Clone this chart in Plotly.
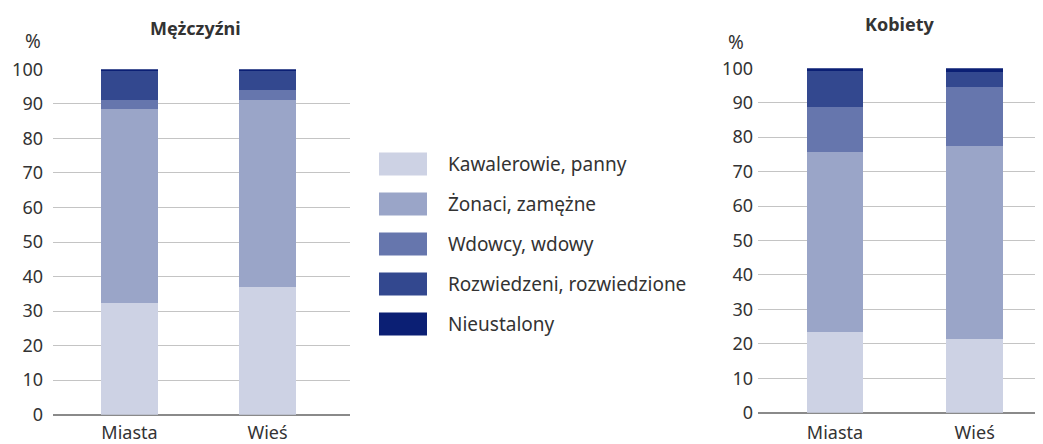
import plotly.graph_objects as go

categories = ["Miasta", "Wieś"]
series_names = ["Kawalerowie, panny", "Żonaci, zamężne", "Wdowcy, wdowy",
                "Rozwiedzeni, rozwiedzione", "Nieustalony"]
colors = ["#CDD2E4", "#9AA5C8", "#6676AD", "#33488F", "#0B1F74"]

# Mężczyźni (values per category: Miasta, Wieś)
men_kawalerowie = [32.3, 37.1]
men_zonaci = [56.1, 54.0]
men_wdowcy = [2.8, 2.9]
men_rozwiedzeni = [8.4, 5.4]
men_nieustalony = [0.4, 0.6]

# Kobiety
women_panny = [23.4, 21.3]
women_zamezne = [52.4, 56.0]
women_wdowy = [13.1, 17.4]
women_rozwiedzione = [10.2, 4.3]
women_nieustalony = [0.9, 1.0]

y_ticks = [0, 10, 20, 30, 40, 50, 60, 70, 80, 90, 100]

men_series = [men_kawalerowie, men_zonaci, men_wdowcy, men_rozwiedzeni, men_nieustalony]
women_series = [women_panny, women_zamezne, women_wdowy, women_rozwiedzione, women_nieustalony]

# page body has an 8px margin: figure sits at (8, 8) in the 1043x444 window
OFF = 8
W, H = 1043 - OFF, 444 - OFF
FONT = "Noto Sans"
TXT = "#333333"

def px(x):
    return (x - OFF) / W

def py(y):
    return 1 - (y - OFF) / H

fig = go.Figure()
for name, col, vals in zip(series_names, colors, men_series):
    fig.add_trace(go.Bar(x=categories, y=vals, name=name, marker_color=col,
                         marker_line_width=0, width=0.413, xaxis="x", yaxis="y",
                         showlegend=False))
for name, col, vals in zip(series_names, colors, women_series):
    fig.add_trace(go.Bar(x=categories, y=vals, name=name, marker_color=col,
                         marker_line_width=0, width=0.405, xaxis="x2", yaxis="y2",
                         showlegend=False))

def yax(domain, standoff, anchor):
    return dict(domain=domain, range=[0, 100], tickvals=y_ticks, showgrid=True,
                gridcolor="#c4c4c4", gridwidth=1, zeroline=True, zerolinecolor="#8a8a8a",
                zerolinewidth=1.5, showline=False, ticks="", ticklabelstandoff=standoff,
                automargin=False, anchor=anchor,
                tickfont=dict(family=FONT, size=18, color=TXT), fixedrange=True)

def xax(domain, rng, anchor, standoff):
    return dict(domain=domain, range=rng, type="category", showgrid=False, zeroline=False,
                showline=False, ticks="", anchor=anchor, automargin=False,
                ticklabelstandoff=standoff,
                tickfont=dict(family=FONT, size=18, color=TXT), fixedrange=True)

fig.update_layout(
    width=W, height=H, autosize=False, margin=dict(l=0, r=0, t=0, b=0, pad=0),
    paper_bgcolor="white", plot_bgcolor="white", barmode="stack",
    font=dict(family=FONT, color=TXT),
    xaxis=xax([px(53), px(350)], [-0.554, 1.598], "y", 5),
    yaxis=yax([py(414.7), py(69.3)], 9, "x"),
    xaxis2=xax([px(758), 1.0], [-0.551, 1.489], "y2", 7),
    yaxis2=yax([py(412.7), py(68.3)], 4, "x2"),
)

ann = []
def label(text, x, y, size=18, xanchor="center"):
    ann.append(dict(text=text, x=px(x), y=py(y), xref="paper", yref="paper",
                    xanchor=xanchor, yanchor="middle", showarrow=False,
                    font=dict(family=FONT, size=size, color=TXT)))

label("<b>Mężczyźni</b>", 195, 28)
label("<b>Kobiety</b>", 900, 24)
label("%", 33, 41, 19)
label("%", 736, 42, 19)

shapes = []
for i, (name, col) in enumerate(zip(series_names, colors)):
    cy = 164 + 40 * i
    shapes.append(dict(type="rect", xref="paper", yref="paper",
                       x0=px(379), x1=px(427), y0=py(cy + 11.5), y1=py(cy - 11.5),
                       fillcolor=col, line_width=0))
    label(name, 446, cy, 19, "left")

fig.update_layout(annotations=ann, shapes=shapes)
fig.write_html("out.html")
